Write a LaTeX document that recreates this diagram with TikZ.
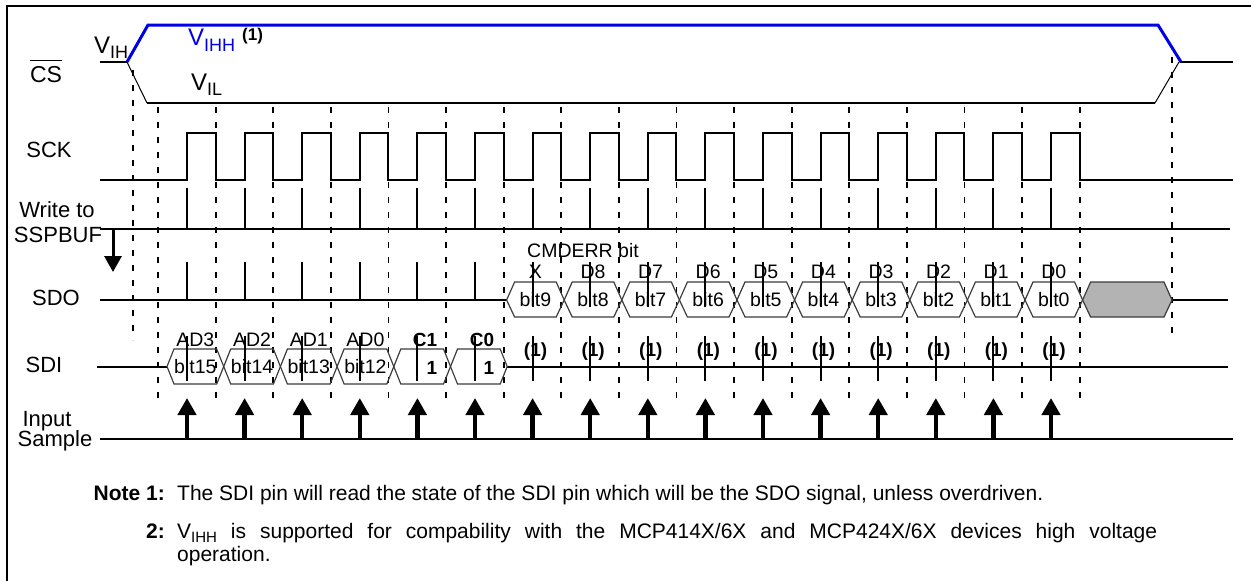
\documentclass[tikz,border=0pt]{standalone}
\usepackage{fontspec}
\setmainfont{Liberation Sans}
\usetikzlibrary{arrows.meta}
\definecolor{vblue}{RGB}{0,0,230}
\definecolor{hexgrey}{RGB}{179,179,179}
\definecolor{hexedge}{RGB}{60,60,60}
\begin{document}
\begin{tikzpicture}[x=1pt,y=-1pt,
  sig/.style={line width=2pt},
  griddash/.style={line width=1.8pt, dash pattern=on 6pt off 9pt},
  tickline/.style={line width=2pt},
  hexcell/.style={line width=1.2pt, draw=hexedge, line join=miter},
  lbl/.style={font=\fontsize{22}{24}\selectfont, inner sep=0pt, anchor=base},
  small/.style={font=\fontsize{19.5}{21}\selectfont, inner sep=0pt},
  smallbold/.style={font=\fontsize{19}{21}\selectfont\bfseries, inner sep=0pt},
  note/.style={font=\fontsize{21}{24}\selectfont, inner sep=0pt, anchor=base west},
  notebold/.style={font=\fontsize{21}{24}\selectfont\bfseries, inner sep=0pt, anchor=base east},
  samplearrow/.style={line width=4.5pt, -{Triangle[width=18pt,length=17pt]}},
  wrarrow/.style={line width=3pt, -{Triangle[width=17pt,length=16pt]}},
]
\useasboundingbox (0,0) rectangle (1251,581);
% frame
\draw[line width=2pt] (7,600) -- (7,6) -- (1270,6);

% CS signal
\draw[sig] (100,62) -- (127,62);
\draw[line width=1pt] (127,62) -- (147,103);
\draw[sig] (147,103) -- (1155,103);
\draw[line width=1pt] (1155,103) -- (1179,62);
\draw[sig] (1180,62) -- (1233,62);
\draw[vblue, line width=3pt] (127,62) -- (148,25) -- (1158,25) -- (1181,62);

% dashed guides
\draw[griddash] (133,70) -- (133,340);
\foreach \j in {0,...,16} \draw[griddash] ({158+57.6*\j},107) -- ({158+57.6*\j},400);
\draw[griddash] (1172,57) -- (1172,338);

% SCK
\draw[sig] (100,180) \foreach \k in {0,...,15} { -- ({187+57.6*\k},180) -- ({187+57.6*\k},133) -- ({215.6+57.6*\k},133) -- ({215.6+57.6*\k},180) } -- (1233,180);

% Write to SSPBUF
\draw[sig] (100,229) -- (1230,229);
\coordinate (wrtop) at (113,229);
\coordinate (wrtip) at (113,272);
\draw[wrarrow] (wrtop) -- (wrtip);

% SDO / SDI / Input lines
\draw[sig] (100,300) -- (506.6,300);
\draw[sig] (1172,300) -- (1228,300);
\draw[sig] (97,366.5) -- (167,366.5);
\draw[sig] (507,366.5) -- (1228,366.5);
\draw[sig] (100,439) -- (1233,439);

% SDO cells
\foreach \j in {6,...,15} {
  \pgfmathsetmacro\xa{161+57.6*\j}
  \pgfmathsetmacro\xb{161+57.6*(\j+1)}
  \draw[hexcell] (\xa,300) -- ({\xa+8},282) -- ({\xb-8},282) -- (\xb,300) -- ({\xb-8},317) -- ({\xa+8},317) -- cycle;
}
\filldraw[hexcell, fill=hexgrey] (1082.6,300) -- (1090.6,282) -- (1164,282) -- (1172,300) -- (1164,317) -- (1090.6,317) -- cycle;

% SDI cells
\foreach \m in {0,...,5} {
  \pgfmathsetmacro\xa{167+56.7*\m}
  \pgfmathsetmacro\xb{167+56.7*(\m+1)}
  \draw[hexcell] (\xa,366.5) -- ({\xa+7},349) -- ({\xb-7},349) -- (\xb,366.5) -- ({\xb-7},384) -- ({\xa+7},384) -- cycle;
}

% SDO labels
\foreach \j/\b/\d in {6/9/X,7/8/D8,8/7/D7,9/6/D6,10/5/D5,11/4/D4,12/3/D3,13/2/D2,14/1/D1,15/0/D0} {
  \pgfmathsetmacro\xc{189.8+57.6*\j}
  \node[small] (sdob\b) at (\xc,300) {bit\b};
  \node[small] (sdod\b) at (\xc,272) {\d};
}
\node[small, anchor=west] (cmderr) at (527,251) {CMDERR bit};

% SDI labels
\foreach \m/\b/\a in {0/15/AD3,1/14/AD2,2/13/AD1,3/12/AD0} {
  \pgfmathsetmacro\xc{195.35+56.7*\m}
  \node[small] (sdib\b) at (\xc,366.5) {bit\b};
  \node[small] (sdia\b) at (\xc,340) {\a};
}
\node[smallbold] (c1) at (425,340) {C1};
\node[smallbold] (c1v) at (432,368) {1};
\node[smallbold] (c0) at (482,340) {C0};
\node[smallbold] (c0v) at (489,368) {1};
\foreach \k in {6,...,15} \node[smallbold] (od\k) at ({190+57.6*\k},352) {(1)};

% ticks and sample arrows
\foreach \k in {0,...,15} {
  \pgfmathsetmacro\t{187+57.6*\k}
  \draw[tickline] (\t,188) -- (\t,229);
  \ifnum\k<6
    \draw[tickline] (\t,262) -- (\t,300);
  \else
    \draw[tickline] (\t,262) -- (\t,307);
  \fi
  \draw[tickline] (\t,336) -- (\t,381);
  \draw[samplearrow] (\t,439) -- (\t,398);
}

% signal names
\node[lbl, font=\fontsize{23}{25}\selectfont] (cs) at (46,82) {CS};
\draw[line width=1.5pt] ([yshift=5pt]cs.north west) -- ([yshift=5pt]cs.north east);
\node[lbl] (sck) at (49,157) {SCK};
\node[lbl] (wr1) at (57,217) {Write to};
\node[lbl] (wr2) at (58,242) {SSPBUF};
\node[lbl] (sdo) at (56,305) {SDO};
\node[lbl] (sdi) at (44,372) {SDI};
\node[lbl] (in1) at (47,426) {Input};
\node[lbl] (in2) at (55,446) {Sample};

% voltage labels
\node[inner sep=0pt, anchor=base west, font=\fontsize{24}{26}\selectfont] (vih) at (94,53) {V\raisebox{-5pt}{\fontsize{18}{20}\selectfont IH}};
\node[inner sep=0pt, anchor=base west, font=\fontsize{24}{26}\selectfont, text=vblue] (vihh) at (188,45) {V\raisebox{-6pt}{\fontsize{18}{20}\selectfont IHH}};
\node[inner sep=0pt, anchor=base west, font=\fontsize{17}{19}\selectfont\bfseries] (vihhn) at (242,40) {(1)};
\node[inner sep=0pt, anchor=base west, font=\fontsize{24}{26}\selectfont] (vil) at (191,90) {V\raisebox{-5pt}{\fontsize{18}{20}\selectfont IL}};

% notes
\node[notebold] (n1) at (165,500) {Note 1:};
\node[note] (t1) at (177,500) {The SDI pin will read the state of the SDI pin which will be the SDO signal, unless overdriven.};
\node[notebold] (n2) at (165,538) {2:};
\node[note] (t2) at (177,538) {\makebox[980pt][s]{V\raisebox{-4pt}{\fontsize{15}{16}\selectfont IHH} is supported for compability with the MCP414X/6X and MCP424X/6X devices high voltage}};
\node[note] (t3) at (177,561) {operation.};
\end{tikzpicture}
\end{document}
